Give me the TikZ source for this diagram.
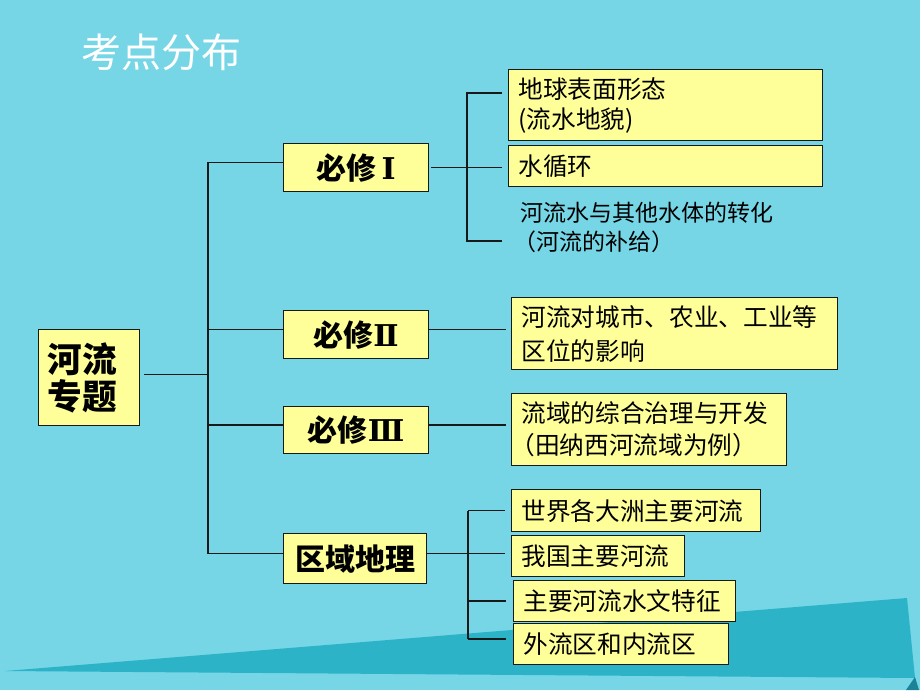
\documentclass[tikz,border=0pt]{standalone}
\usepackage{fontspec}
\newfontfamily\cjk{Noto Sans CJK SC}
\newfontfamily\romfont{DejaVu Serif}
\definecolor{bgc}{RGB}{118,214,230}
\definecolor{wedgec}{RGB}{44,179,200}
\definecolor{foldc}{RGB}{28,130,150}
\definecolor{boxc}{RGB}{255,255,153}
\definecolor{linec}{RGB}{25,25,25}
\tikzset{
  box/.style={draw=linec, line width=0.9pt, fill=boxc, text=black},
  leaf/.style={box, anchor=north west, align=left, inner xsep=7.5pt, inner ysep=1pt,
    font=\cjk\fontsize{18.5}{22.5}\selectfont},
  midbox/.style={box, anchor=north west, align=center, inner sep=0pt,
    minimum width=108.75pt, minimum height=36pt,
    font=\cjk\bfseries\fontsize{22.5}{27}\selectfont},
  conn/.style={draw=linec, line width=1.1pt},
}
\begin{document}
\begin{tikzpicture}[x=0.75pt,y=-0.75pt]
\useasboundingbox (0,0) rectangle (920,690);
\fill[bgc] (0,0) rectangle (920,690);
\fill[wedgec] (5,671) -- (907,598) -- (915,678) -- cycle;
\fill[foldc] (906,690) -- (915,677) -- (919,690) -- cycle;

\node[text=white, font=\cjk\fontsize{30}{36}\selectfont] (title) at (161,52) {考点分布};

% root
\node[box, anchor=north west, align=left, inner xsep=6.75pt, inner ysep=1pt,
  text width=62.25pt, minimum height=72pt,
  font=\cjk\bfseries\fontsize{26}{27.75}\selectfont] (root) at (38,329) {河流\\专题};

% second level
\node[midbox] (b1) at (283,143) {必修{\romfont\bfseries\,Ⅰ}};
\node[midbox] (b2) at (283,310) {必修{\romfont\bfseries Ⅱ}};
\node[midbox, minimum height=35.25pt] (b3) at (283,406) {必修{\romfont\bfseries Ⅲ}};
\node[midbox, minimum width=107.25pt, minimum height=37.5pt] (b4) at (283,533) {区域地理};

% leaves
\node[leaf, text width=220.5pt, minimum height=53.25pt] (c11) at (508,69) {地球表面形态\\(流水地貌)};
\node[leaf, text width=220.5pt, minimum height=30.75pt] (c12) at (508,145) {水循环};
\node[anchor=west, align=left, inner sep=0pt, text=black,
  font=\cjk\fontsize{17.25}{21.75}\selectfont] (c13) at (520,227) {河流水与其他水体的转化\\\hspace*{-0.3em}（河流的补给）};
\node[leaf, text width=229.5pt, minimum height=54pt,
  font=\cjk\fontsize{18.5}{25.5}\selectfont] (c2) at (511,297) {河流对城市、农业、工业等\\区位的影响};
\node[leaf, text width=191.25pt, minimum height=54pt,
  font=\cjk\fontsize{18.5}{24}\selectfont] (c3) at (511,393) {流域的综合治理与开发\\\hspace*{-0.45em}（田纳西河流域为例）};
\node[leaf, text width=171.75pt, minimum height=31.5pt] (c41) at (511,489) {世界各大洲主要河流};
\node[leaf, text width=114.75pt, minimum height=30.75pt] (c42) at (511,535) {我国主要河流};
\node[leaf, text width=151.5pt, minimum height=30.75pt] (c43) at (513,580) {主要河流水文特征};
\node[leaf, text width=146.25pt, minimum height=30.75pt] (c44) at (513,623) {外流区和内流区};

% connectors
\coordinate (s1) at (208,0);
\coordinate (s2) at (467,0);
\coordinate (s3) at (468,0);
\coordinate (t11) at (502,93);
\coordinate (t13) at (502,241);

\draw[conn, shorten <=3pt] ([yshift=2.5pt]root.east) -- ([yshift=2.5pt]root.east -| s1);
\draw[conn] ([yshift=3.75pt]b1.west) -- ([yshift=3.75pt]b1.west -| s1)
  -- ([yshift=3.75pt]b4.west -| s1) -- ([yshift=3.75pt]b4.west);
\draw[conn] ([yshift=3.75pt]b2.west) -- ([yshift=3.75pt]b2.west -| s1);
\draw[conn] ([yshift=3.75pt]b3.west) -- ([yshift=3.75pt]b3.west -| s1);

\draw[conn, shorten <=1.5pt, shorten >=4.5pt] (b1.east) -- (b1.east -| c12.west);
\draw[conn] (t11) -- (t11 -| s2) -- (t13 -| s2) -- (t13);

\draw[conn, shorten >=3.75pt] ([yshift=3.75pt]b2.east) -- ([yshift=3.75pt]b2.east -| c2.west);
\draw[conn, shorten >=3.75pt] ([yshift=3.75pt]b3.east) -- ([yshift=3.75pt]b3.east -| c3.west);

\draw[conn, shorten >=4.5pt] ([yshift=3.75pt]b4.east) -- ([yshift=3.75pt]b4.east -| c42.west);
\draw[conn] (c41.west -| s3) -- ([yshift=3.75pt]c44.west -| s3);
\draw[conn, shorten >=4.5pt] (c41.west -| s3) -- (c41.west);
\draw[conn, shorten >=5.5pt] (c43.west -| s3) -- (c43.west);
\draw[conn, shorten >=5.5pt] ([yshift=3.75pt]c44.west -| s3) -- ([yshift=3.75pt]c44.west);
\end{tikzpicture}
\end{document}
